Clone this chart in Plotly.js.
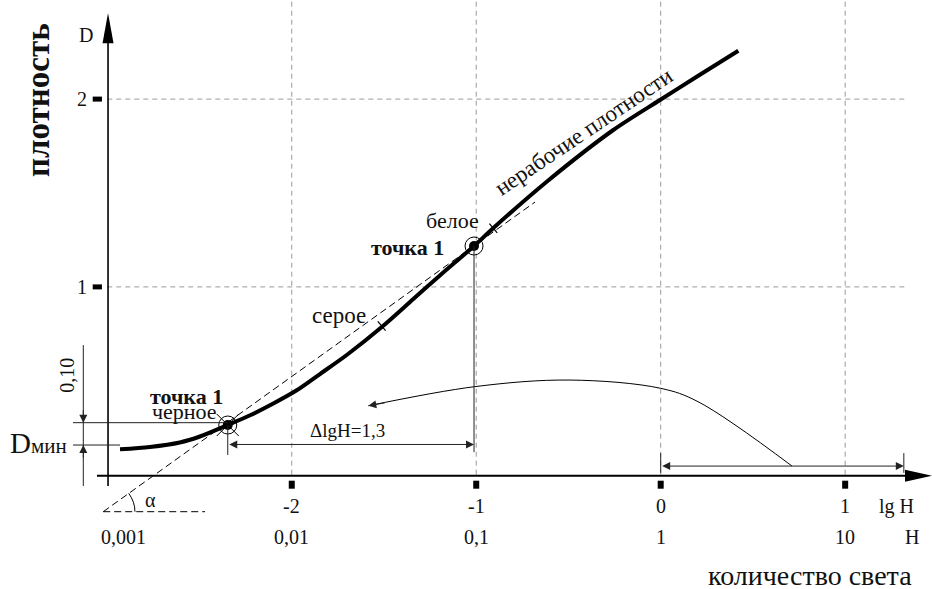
<!DOCTYPE html>
<html>
<head>
<meta charset="utf-8">
<script src="https://cdn.plot.ly/plotly-3.0.1.min.js"></script>
<style>html,body{margin:0;padding:0;background:#fff}#chart{width:932px;height:589px}</style>
</head>
<body>
<div id="chart"></div>
<script>
// ---- data ----
const curveLgH = [-2.931,-2.769,-2.607,-2.498,-2.347,-2.226,-2.100,-1.973,-1.847,-1.702,-1.512,-1.341,-1.197,-1.012,-0.907,-0.618,-0.257,-0.004,0.195,0.421];
const curveD   = [0.135,0.1475,0.1715,0.2034,0.2646,0.3163,0.3791,0.4494,0.5362,0.6374,0.7865,0.9356,1.0607,1.2178,1.3136,1.5602,1.8355,1.9952,2.1193,2.2577];
const pointLgH = [-2.347,-1.012];
const pointD   = [0.2646,1.2178];
const tangentLgH = [-3.022,-0.681];
const tangentD   = [-0.197,1.452];
const arcLgH = [-1.585,-1.007,-0.492,0.000,0.202,0.712];
const arcD   = [0.367,0.469,0.504,0.460,0.389,0.046];
const xTickVals = [-2,-1,0,1];
const xTickLg   = ['-2','-1','0','1'];
const hTickVals = [-3,-2,-1,0,1];
const hTickText = ['0,001','0,01','0,1','1','10'];
const yTickVals = [1,2];
const yTickText = ['1','2'];
const dMinUpper = 0.277, dMinLower = 0.158;
const deltaLgH = 1.3;

// pixel helpers (scale factors of the axes below)
const PX_X = 1/184.47, PX_Y = 1/187.8;
const FONT = '"Liberation Serif", "Times New Roman", serif';
const GRID = {color:'#9a9a9a', width:1, dash:'5px,4px'};
const THIN = {color:'#222', width:1};

const shapes = [];
// grid
xTickVals.forEach(v => shapes.push({type:'line', x0:v, x1:v, y0:0, y1:2.53, line:GRID, layer:'below'}));
yTickVals.forEach(v => shapes.push({type:'line', x0:-3, x1:1.325, y0:v, y1:v, line:GRID, layer:'below'}));
// axes
shapes.push({type:'line', x0:-3.056, x1:1.33, y0:-0.005, y1:-0.005, line:{color:'#000', width:2}});
shapes.push({type:'line', x0:-2.996, x1:-2.996, y0:-0.06, y1:2.30, line:{color:'#000', width:1.6}});
shapes.push({type:'path', path:`M ${-2.996} 2.458 L ${-2.996-5.5*PX_X} 2.298 L ${-2.996+5.5*PX_X} 2.298 Z`, fillcolor:'#000', line:{width:0}});
shapes.push({type:'path', path:`M 1.4707 -0.005 L 1.3243 ${-0.005+6*PX_Y} L 1.3243 ${-0.005-6*PX_Y} Z`, fillcolor:'#000', line:{width:0}});
// tick squares
xTickVals.forEach(v => shapes.push({type:'rect', x0:v-3*PX_X, x1:v+3*PX_X, y0:-6*PX_Y, y1:-14*PX_Y, fillcolor:'#000', line:{width:0}}));
yTickVals.forEach(v => shapes.push({type:'rect', x0:-3.079, x1:-3.029, y0:v-2.5*PX_Y, y1:v+2.5*PX_Y, fillcolor:'#000', line:{width:0}}));
// D min construction
shapes.push({type:'line', x0:-3.186, x1:pointLgH[0], y0:dMinUpper, y1:dMinUpper, line:THIN});
shapes.push({type:'line', x0:-3.186, x1:curveLgH[0], y0:dMinLower, y1:dMinLower, line:THIN});
shapes.push({type:'line', x0:-3.130, x1:-3.130, y0:0.690, y1:-0.060, line:THIN});
// extension lines
shapes.push({type:'line', x0:pointLgH[0], x1:pointLgH[0], y0:pointD[0], y1:0.105, line:THIN});
shapes.push({type:'line', x0:pointLgH[1], x1:pointLgH[1], y0:pointD[1], y1:0.12, line:THIN});
shapes.push({type:'line', x0:0, x1:0, y0:0.115, y1:0.01, line:THIN});
shapes.push({type:'line', x0:1.318, x1:1.318, y0:0.115, y1:0.01, line:THIN});
// angle alpha
shapes.push({type:'line', x0:tangentLgH[0], x1:-2.470, y0:tangentD[0], y1:tangentD[0], line:{color:'#000', width:1, dash:'7px,4px'}});
shapes.push({type:'path', path:`M -2.884 -0.099 Q -2.850 -0.145 -2.850 -0.197`, line:{color:'#000', width:1}});
// marks on curve
shapes.push({type:'line', x0:-1.5336, y0:0.8163, x1:-1.4913, y1:0.7673, line:{color:'#000', width:1.2}});
shapes.push({type:'line', x0:-0.9286, y0:1.3365, x1:-0.8863, y1:1.2875, line:{color:'#000', width:1.2}});

const traces = [
  {x:tangentLgH, y:tangentD, mode:'lines', line:{color:'#000', width:1, dash:'7px,4px'}, hoverinfo:'skip'},
  {x:curveLgH, y:curveD, mode:'lines', line:{color:'#000', width:4, shape:'spline', smoothing:0.8}, hoverinfo:'skip'},
  {x:arcLgH, y:arcD, mode:'lines', line:{color:'#000', width:1, shape:'spline', smoothing:1}, hoverinfo:'skip'},
  {x:pointLgH, y:pointD, mode:'markers', marker:{symbol:'circle-open', size:18, color:'#000', line:{width:1, color:'#000'}}, hoverinfo:'skip'},
  {x:[pointLgH[0]], y:[pointD[0]], mode:'markers', marker:{symbol:'x-thin-open', size:22, color:'#000', line:{width:1, color:'#000'}}, hoverinfo:'skip'},
  {x:pointLgH, y:pointD, mode:'markers', marker:{symbol:'circle', size:10, color:'#000'}, hoverinfo:'skip'}
];

const txt = (x, y, text, size, extra) => Object.assign({x, y, xref:'x', yref:'y', text, showarrow:false, font:{family:FONT, size, color:'#111'}}, extra||{});
const annotations = [];
xTickVals.forEach((v,i) => annotations.push(txt(v, -0.167, xTickLg[i], 20)));
hTickVals.forEach((v,i) => annotations.push(txt(v, -0.332, hTickText[i], 20, i===0 ? {xshift:16} : {})));
yTickVals.forEach((v,i) => annotations.push(txt(-3.098, v, yTickText[i], 20, {xanchor:'right'})));
annotations.push(txt(1.276, -0.167, 'lg H', 20));
annotations.push(txt(1.29, -0.332, 'H', 20, {xshift:13}));
annotations.push(txt(-3.115, 2.340, 'D', 20));
annotations.push(txt(0.810, -0.535, 'количество света', 28));
annotations.push(txt(-3.376, 1.995, '<b>плотность</b>', 33, {textangle:-90}));
annotations.push(txt(-3.215, 0.530, '0,10', 20, {textangle:-90}));
annotations.push(txt(-3.538, 0.169, 'D<span style="font-size:21px">мин</span>', 29, {xanchor:'left'}));
annotations.push(txt(-2.568, 0.418, '<b>точка 1</b>', 22));
annotations.push(txt(-2.583, 0.335, 'черное', 22));
annotations.push(txt(-1.745, 0.850, 'серое', 23));
annotations.push(txt(-1.131, 1.356, 'белое', 22));
annotations.push(txt(-1.375, 1.212, '<b>точка 1</b>', 22));
annotations.push(txt(-0.416, 1.830, 'нерабочие плотности', 23, {textangle:-34}));
annotations.push(txt(-1.700, 0.238, 'ΔlgH=' + String(deltaLgH).replace('.', ','), 19));
annotations.push(txt(-2.768, -0.135, 'α', 20));
// arrows
const arr = (x, y, ax, ay, extra) => Object.assign({x, y, ax, ay, xref:'x', yref:'y', text:'', showarrow:true, arrowhead:2, arrowsize:1.6, arrowwidth:1, arrowcolor:'#222'}, extra||{});
annotations.push(arr(-3.130, dMinUpper, 0, -14));
annotations.push(arr(-3.130, dMinLower, 0, 14));
annotations.push(arr(pointLgH[1], 0.161, pointLgH[0], 0.161, {axref:'x', ayref:'y', arrowside:'end+start', startarrowhead:2, startarrowsize:1.6}));
annotations.push(arr(1.318, 0.046, 0, 0.046, {axref:'x', ayref:'y', arrowside:'end+start', startarrowhead:2, startarrowsize:1.6}));
annotations.push(arr(arcLgH[0], arcD[0], 18, -3.2));

const layout = {
  width:932, height:589,
  margin:{l:0, r:0, t:0, b:0},
  paper_bgcolor:'#fff', plot_bgcolor:'#fff',
  showlegend:false,
  xaxis:{range:[-3.5816, 1.4707], visible:false, fixedrange:true},
  yaxis:{range:[-0.6086, 2.5277], visible:false, fixedrange:true},
  shapes, annotations
};
Plotly.newPlot('chart', traces, layout, {staticPlot:true});
</script>
</body>
</html>
